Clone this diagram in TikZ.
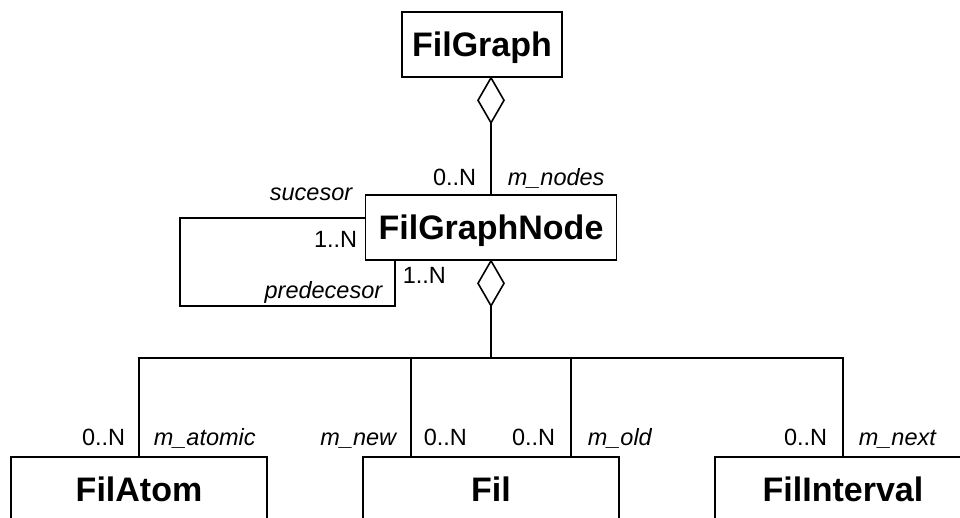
\documentclass[tikz,border=0pt]{standalone}
\usepackage{fontspec}
\setmainfont{Liberation Sans}
\begin{document}
\begin{tikzpicture}[x=1pt,y=-1pt,line width=1.6pt,
  cls/.style={draw, rectangle, minimum height=65pt, inner sep=0pt,
    font=\bfseries\fontsize{34}{40}\selectfont, text height=24pt, text depth=0pt},
  mult/.style={inner sep=0pt, font=\fontsize{23.5}{28}\selectfont},
  role/.style={inner sep=0pt, font=\itshape\fontsize{23.5}{28}\selectfont},
  agg/.style={draw, fill=white, line join=miter}]
\useasboundingbox (0,0) rectangle (960,517);
\clip (0,0) rectangle (960,517);

% classes
\node[cls, minimum width=160pt] (graph) at (482,44.5) {FilGraph};
\node[cls, minimum width=251pt] (gnode) at (491,227.5) {FilGraphNode};
\node[cls, minimum width=256pt] (atom) at (139,489.5) {FilAtom};
\node[cls, minimum width=256pt] (fil)  at (491,489.5) {Fil};
\node[cls, minimum width=256pt] (intv) at (843,489.5) {FilInterval};

% FilGraph <>-- FilGraphNode
\coordinate (d1top) at (graph.south -| gnode.north);
\coordinate (d1bot) at ([yshift=-45pt]d1top);
\draw[agg] (d1top) -- ++(13,22.5) -- (d1bot) -- ++(-13,-22.5) -- cycle;
\draw (d1bot) -- (gnode.north);
\node[mult, anchor=base east] (m1) at (477,185) {0..N};
\node[role, anchor=base west] (r1) at (507,185) {m\_nodes};

% self association of FilGraphNode
\coordinate (lA) at ([yshift=9.5pt]gnode.west);
\coordinate (lB) at (180,306);
\coordinate (lC) at (gnode.south -| 395,0);
\draw (lA) -| (lB) -| (lC);
\node[role, anchor=base east] (r2) at (353,200) {sucesor};
\node[mult, anchor=base east] (m2) at (358,247) {1..N};
\node[role, anchor=base east] (r3) at (383,298) {predecesor};
\node[mult, anchor=base west] (m3) at (402,283) {1..N};

% FilGraphNode <>-- parts
\coordinate (d2top) at (gnode.south);
\coordinate (d2bot) at ([yshift=-45pt]d2top);
\draw[agg] (d2top) -- ++(13,22.5) -- (d2bot) -- ++(-13,-22.5) -- cycle;
\coordinate (bus) at (491,358);
\draw (d2bot) -- (bus);
\draw (atom.north) -- (atom.north |- bus) -- (intv.north |- bus) -- (intv.north);
\coordinate (fnew) at ([xshift=-80pt]fil.north);
\coordinate (fold) at ([xshift=80pt]fil.north);
\draw (fnew |- bus) -- (fnew);
\draw (fold |- bus) -- (fold);

% role and multiplicity labels
\node[mult, anchor=base east] at (126,445) {0..N};
\node[role, anchor=base west] at (153,445) {m\_atomic};
\node[role, anchor=base east] at (397,445) {m\_new};
\node[mult, anchor=base west] at (423,445) {0..N};
\node[mult, anchor=base east] at (556,445) {0..N};
\node[role, anchor=base west] at (587,445) {m\_old};
\node[mult, anchor=base east] at (828,445) {0..N};
\node[role, anchor=base west] at (858,445) {m\_next};
\end{tikzpicture}
\end{document}
